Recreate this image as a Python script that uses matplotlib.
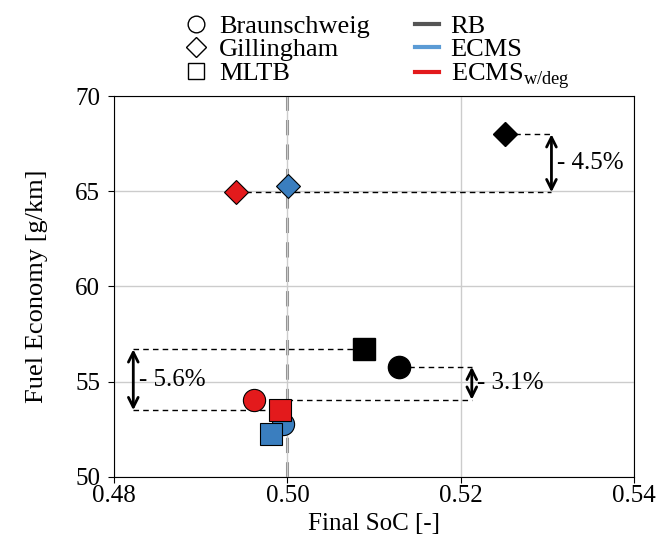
import matplotlib.pyplot as plt
from matplotlib.lines import Line2D

plt.rcParams['font.family'] = ['Liberation Serif', 'DejaVu Serif']
plt.rcParams['mathtext.fontset'] = 'custom'
plt.rcParams['mathtext.rm'] = 'Liberation Serif'

# data: final SoC and fuel economy per route / strategy
routes = ['Braunschweig', 'Gillingham', 'MLTB']
markers = ['o', 'D', 's']
strategies = ['RB', 'ECMS', 'ECMS$_{\\mathrm{w/deg}}$']
colors = ['black', '#3a7ebf', '#e31a1c']
legend_colors = ['#555555', '#5b9bd5', '#e31a1c']

soc_rb = [0.5129, 0.5251, 0.5088]
fe_rb = [55.78, 68.0, 56.7]
soc_ecms = [0.4995, 0.5001, 0.4981]
fe_ecms = [52.8, 65.28, 52.25]
soc_deg = [0.4962, 0.4941, 0.4992]
fe_deg = [54.05, 64.95, 53.5]

fig = plt.figure(figsize=(6.72, 5.40), dpi=100)
ax = fig.add_axes([0.170, 0.117, 0.773, 0.705])

ax.grid(True, color='#cccccc', linewidth=1, zorder=0)
ax.axvline(0.5, color='#888888', linestyle='--', linewidth=2.2, dashes=(5, 3), zorder=1)

# dashed helper lines and arrows
dash = dict(color='black', linestyle='--', linewidth=1, dashes=(4, 3), zorder=2)
arrow = dict(arrowstyle='<->,head_length=0.7,head_width=0.35', color='black', lw=2,
             shrinkA=0, shrinkB=0)
# 4.5 %
ax.plot([soc_rb[1], 0.5305], [fe_rb[1], fe_rb[1]], **dash)
ax.plot([soc_deg[1], 0.5305], [fe_deg[1], fe_deg[1]], **dash)
ax.annotate('', xy=(0.5305, fe_rb[1]), xytext=(0.5305, fe_deg[1]), arrowprops=arrow)
ax.text(0.5311, (fe_rb[1] + fe_deg[1]) / 2, '- 4.5%', fontsize=18, va='center', ha='left')
# 3.1 %
ax.plot([soc_rb[0], 0.5213], [fe_rb[0], fe_rb[0]], **dash)
ax.plot([0.5, 0.5213], [fe_deg[0], fe_deg[0]], **dash)
ax.annotate('', xy=(0.5213, fe_rb[0]), xytext=(0.5213, fe_deg[0]), arrowprops=arrow)
ax.text(0.5219, (fe_rb[0] + fe_deg[0]) / 2, '- 3.1%', fontsize=18, va='center', ha='left')
# 5.6 %
ax.plot([0.4822, soc_rb[2]], [fe_rb[2], fe_rb[2]], **dash)
ax.plot([0.4822, soc_deg[2]], [fe_deg[2], fe_deg[2]], **dash)
ax.annotate('', xy=(0.4822, fe_rb[2]), xytext=(0.4822, fe_deg[2]), arrowprops=arrow)
ax.text(0.4829, (fe_rb[2] + fe_deg[2]) / 2, '- 5.6%', fontsize=18, va='center', ha='left')

ms = {'o': 16, 'D': 12, 's': 16.5}
for i, m in enumerate(markers):
    ax.plot(soc_rb[i], fe_rb[i], marker=m, color='black', markersize=ms[m],
            markeredgecolor='black', linestyle='none', zorder=4)
    ax.plot(soc_ecms[i], fe_ecms[i], marker=m, color=colors[1], markersize=ms[m],
            markeredgecolor='black', markeredgewidth=0.8, linestyle='none',
            zorder=3 if m == 'o' else 5)
    ax.plot(soc_deg[i], fe_deg[i], marker=m, color=colors[2], markersize=ms[m],
            markeredgecolor='black', markeredgewidth=0.8, linestyle='none', zorder=4)

ax.set_xlim(0.48, 0.54)
ax.set_ylim(50, 70)
ax.set_xticks([0.48, 0.50, 0.52, 0.54])
ax.set_xticklabels(['0.48', '0.50', '0.52', '0.54'])
ax.set_yticks([50, 55, 60, 65, 70])
ax.tick_params(labelsize=18, direction='out', length=4)
ax.tick_params(axis='x', pad=2)
ax.tick_params(axis='y', pad=6)
ax.set_xlabel('Final SoC [-]', fontsize=18, labelpad=4)
ax.set_ylabel('Fuel Economy [g/km]', fontsize=19, labelpad=20)

handles = [Line2D([], [], marker=m, color='black', markerfacecolor='white',
                  linestyle='none', markersize=12 if m != 'D' else 10) for m in markers]
handles += [Line2D([], [], color=c, linewidth=3) for c in legend_colors]
labels = routes + strategies
ax.legend(handles, labels, ncol=2, loc='lower center', bbox_to_anchor=(0.505, 0.985),
          frameon=False, fontsize=19, handlelength=0.9, handletextpad=0.45,
          columnspacing=1.7, labelspacing=0.0, borderaxespad=0)

plt.savefig('out.png', dpi=100)
